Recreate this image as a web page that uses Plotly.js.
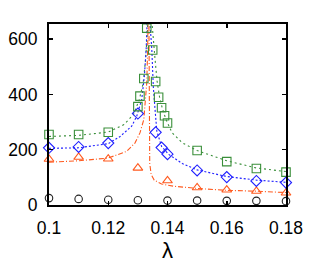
<!DOCTYPE html>
<html>
<head>
<meta charset="utf-8">
<script src="https://cdn.plot.ly/plotly-3.0.1.min.js"></script>
<style>html,body{margin:0;padding:0;background:#fff;}#chart{width:312px;height:270px;}</style>
</head>
<body>
<div id="chart"></div>
<script>
// Measured data points
const circleX = [0.10, 0.11, 0.12, 0.13, 0.14, 0.15, 0.16, 0.17, 0.18];
const circleY = [25, 22, 19, 17, 16, 16, 15, 15, 14];

const triangleX = [0.10, 0.11, 0.12, 0.13, 0.14, 0.15, 0.16, 0.17, 0.18];
const triangleY = [166, 173, 167, 134, 88, 63, 55, 50, 44];

const diamondX = [0.10, 0.11, 0.12, 0.130, 0.136, 0.138, 0.140, 0.15, 0.16, 0.17, 0.18];
const diamondY = [207, 210, 224, 331, 263, 208, 184, 125, 101, 87, 81];

const squareX = [0.10, 0.11, 0.12, 0.130, 0.1307, 0.132, 0.133, 0.135, 0.136, 0.137, 0.138, 0.139, 0.140, 0.15, 0.16, 0.17, 0.18];
const squareY = [255, 255, 263, 356, 394, 458, 640, 561, 447, 390, 352, 323, 297, 197, 157, 132, 119];

// Fit curves (left and right branches of the divergence)
const greenFitLX = [0.100, 0.110, 0.120, 0.1253, 0.1285, 0.1305, 0.1318, 0.1326, 0.1332, 0.1336];
const greenFitLY = [248, 252, 264, 291, 327, 382, 442, 527, 625, 720];
const greenFitRX = [0.1345, 0.1348, 0.1358, 0.1365, 0.1373, 0.1382, 0.1395, 0.1415, 0.145, 0.150, 0.160, 0.170, 0.180];
const greenFitRY = [720, 655, 527, 447, 392, 352, 309, 262, 225, 197, 160, 134, 121];

const blueFitLX = [0.100, 0.110, 0.120, 0.124, 0.1279, 0.1296, 0.1313, 0.1322, 0.1328, 0.1331, 0.1333];
const blueFitLY = [205, 207, 222, 248, 285, 321, 382, 467, 564, 636, 720];
const blueFitRX = [0.1339, 0.1341, 0.1347, 0.1352, 0.1358, 0.1364, 0.138, 0.1403, 0.145, 0.150, 0.160, 0.170, 0.180];
const blueFitRY = [720, 655, 564, 430, 345, 267, 212, 184, 150, 127, 103, 90, 82];

const orangeFitLX = [0.100, 0.110, 0.120, 0.1262, 0.129, 0.1307, 0.132, 0.133, 0.1333, 0.1335];
const orangeFitLY = [155, 160, 170, 194, 224, 261, 309, 442, 564, 720];
const orangeFitRX = [0.1337, 0.1338, 0.1340, 0.1345, 0.1355, 0.138, 0.142, 0.150, 0.160, 0.170, 0.180];
const orangeFitRY = [720, 250, 150, 110, 90, 76, 68, 60, 53, 50, 45];

const xTickVals = [0.10, 0.12, 0.14, 0.16, 0.18];
const xTickText = ['0.1', '0.12', '0.14', '0.16', '0.18'];
const yTickVals = [0, 200, 400, 600];

const GREEN = '#3a8f3a', BLUE = '#1f1fff', ORANGE = '#ff5a1f', BLACK = '#222222';

function fit(x, y, color, dash) {
  return {x: x, y: y, mode: 'lines', type: 'scatter', hoverinfo: 'skip',
          line: {color: color, width: 1.1, dash: dash}, showlegend: false};
}
function pts(x, y, color, symbol, size) {
  return {x: x, y: y, mode: 'markers', type: 'scatter', cliponaxis: false, showlegend: false,
          marker: {symbol: symbol, size: size, color: color, line: {color: color, width: 1.1}}};
}

const data = [
  fit(greenFitLX, greenFitLY, GREEN, '2px,3px'),
  fit(greenFitRX, greenFitRY, GREEN, '2px,3px'),
  fit(blueFitLX, blueFitLY, BLUE, '2px,2px'),
  fit(blueFitRX, blueFitRY, BLUE, '2px,2px'),
  fit(orangeFitLX, orangeFitLY, ORANGE, '5px,2px,1px,2px'),
  fit(orangeFitRX, orangeFitRY, ORANGE, '5px,2px,1px,2px'),
  pts(circleX, circleY, BLACK, 'circle-open', 7.5),
  pts(triangleX, triangleY, ORANGE, 'triangle-up-open', 8.5),
  pts(diamondX, diamondY, BLUE, 'diamond-open', 8.5),
  pts(squareX, squareY, GREEN, 'square-open', 8.5)
];

const layout = {
  width: 312, height: 270,
  margin: {l: 49, r: 26, t: 24, b: 65},
  paper_bgcolor: '#fff', plot_bgcolor: '#fff',
  font: {family: 'Liberation Sans, Arial, sans-serif', size: 17.5, color: '#000'},
  xaxis: {
    range: [0.1, 0.18], tickvals: xTickVals, ticktext: xTickText,
    ticks: 'inside', ticklen: 4, tickwidth: 1.5, tickcolor: '#000',
    showline: true, linewidth: 2, linecolor: '#000', mirror: 'ticks',
    showgrid: false, zeroline: false, ticklabelstandoff: 6,
    title: {text: 'λ', font: {size: 22}, standoff: 3}
  },
  yaxis: {
    range: [0, 655], tickvals: yTickVals,
    ticks: 'inside', ticklen: 4, tickwidth: 1.5, tickcolor: '#000',
    showline: true, linewidth: 2, linecolor: '#000', mirror: 'ticks',
    showgrid: false, zeroline: false, ticklabelstandoff: 6
  }
};

Plotly.newPlot('chart', data, layout, {displayModeBar: false, staticPlot: true});
</script>
</body>
</html>
